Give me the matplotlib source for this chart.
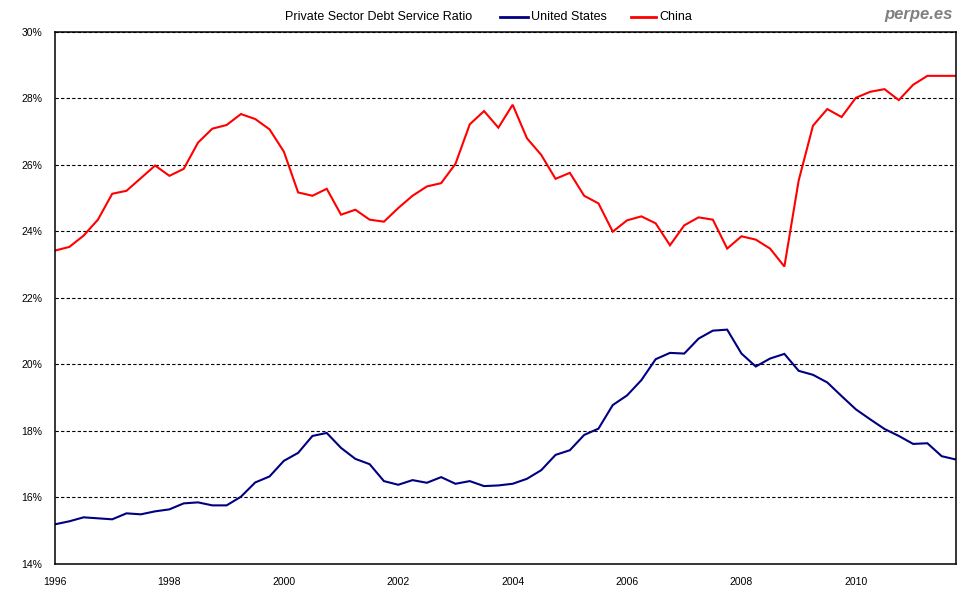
import numpy as np
import matplotlib.pyplot as plt
from matplotlib.lines import Line2D
from matplotlib.ticker import FuncFormatter

plt.rcParams['font.family'] = ['Liberation Sans', 'DejaVu Sans']

# Quarterly data, 1996Q1 .. 2011Q4
quarters = 1996 + np.arange(64) / 4.0

us = [15.18, 15.27, 15.39, 15.36, 15.33, 15.51, 15.48, 15.57,
      15.63, 15.81, 15.84, 15.75, 15.75, 16.01, 16.44, 16.62,
      17.09, 17.33, 17.84, 17.93, 17.48, 17.15, 16.99, 16.48,
      16.37, 16.51, 16.43, 16.60, 16.40, 16.48, 16.33, 16.35,
      16.40, 16.55, 16.81, 17.27, 17.41, 17.87, 18.06, 18.77,
      19.06, 19.52, 20.15, 20.34, 20.32, 20.77, 21.01, 21.04,
      20.32, 19.93, 20.17, 20.31, 19.80, 19.68, 19.45, 19.04,
      18.64, 18.34, 18.05, 17.84, 17.60, 17.62, 17.23, 17.13]

china = [23.42, 23.53, 23.87, 24.35, 25.13, 25.22, 25.60, 25.98,
         25.67, 25.88, 26.67, 27.09, 27.20, 27.53, 27.38, 27.07,
         26.40, 25.17, 25.07, 25.28, 24.50, 24.65, 24.35, 24.29,
         24.70, 25.07, 25.35, 25.45, 26.03, 27.22, 27.62, 27.12,
         27.81, 26.80, 26.30, 25.58, 25.76, 25.07, 24.84, 23.99,
         24.33, 24.45, 24.24, 23.58, 24.18, 24.42, 24.35, 23.48,
         23.85, 23.75, 23.48, 22.94, 25.53, 27.18, 27.68, 27.44,
         28.02, 28.20, 28.28, 27.95, 28.41, 28.68, 28.68, 28.68]

year_ticks = [1996, 1998, 2000, 2002, 2004, 2006, 2008, 2010]
pct_ticks = [14, 16, 18, 20, 22, 24, 26, 28, 30]

navy = '#000080'
red = '#FF0000'

fig = plt.figure(figsize=(9.8, 6), dpi=100)
ax = fig.add_axes([55 / 980, 1 - 563.5 / 600, 901 / 980, 531.5 / 600])

ax.plot(quarters, us, color=navy, lw=1.5, solid_joinstyle='miter')
ax.plot(quarters, china, color=red, lw=1.5, solid_joinstyle='miter')

ax.set_xlim(1996, 2011.75)
ax.set_ylim(14, 30)
ax.set_xticks(year_ticks)
ax.set_yticks(pct_ticks)
ax.yaxis.set_major_formatter(FuncFormatter(lambda v, p: f"{v:.0f}%"))
ax.tick_params(axis='both', length=0, labelsize=7.5, colors='black')
ax.tick_params(axis='y', pad=9)
ax.tick_params(axis='x', pad=10)

ax.grid(axis='y', color='black', linestyle=(0, (3, 2)), linewidth=0.8)
ax.set_axisbelow(True)
for s in ax.spines.values():
    s.set_linewidth(1.1)
    s.set_color('black')

# header: title + legend
fig.text(379 / 980, 1 - 17 / 600, 'Private Sector Debt Service Ratio',
         ha='center', va='center', fontsize=9)
fig.add_artist(Line2D([500 / 980, 528 / 980], [1 - 17 / 600] * 2,
                      color=navy, lw=2, transform=fig.transFigure))
fig.text(531 / 980, 1 - 17 / 600, 'United States', ha='left', va='center', fontsize=9)
fig.add_artist(Line2D([631 / 980, 656 / 980], [1 - 17 / 600] * 2,
                      color=red, lw=2, transform=fig.transFigure))
fig.text(659 / 980, 1 - 17 / 600, 'China', ha='left', va='center', fontsize=9)

fig.text(953 / 980, 1 - 14 / 600, 'perpe.es', ha='right', va='center',
         fontsize=12, fontweight='bold', fontstyle='italic', color='#808080')

fig.savefig('out.png', dpi=100)
